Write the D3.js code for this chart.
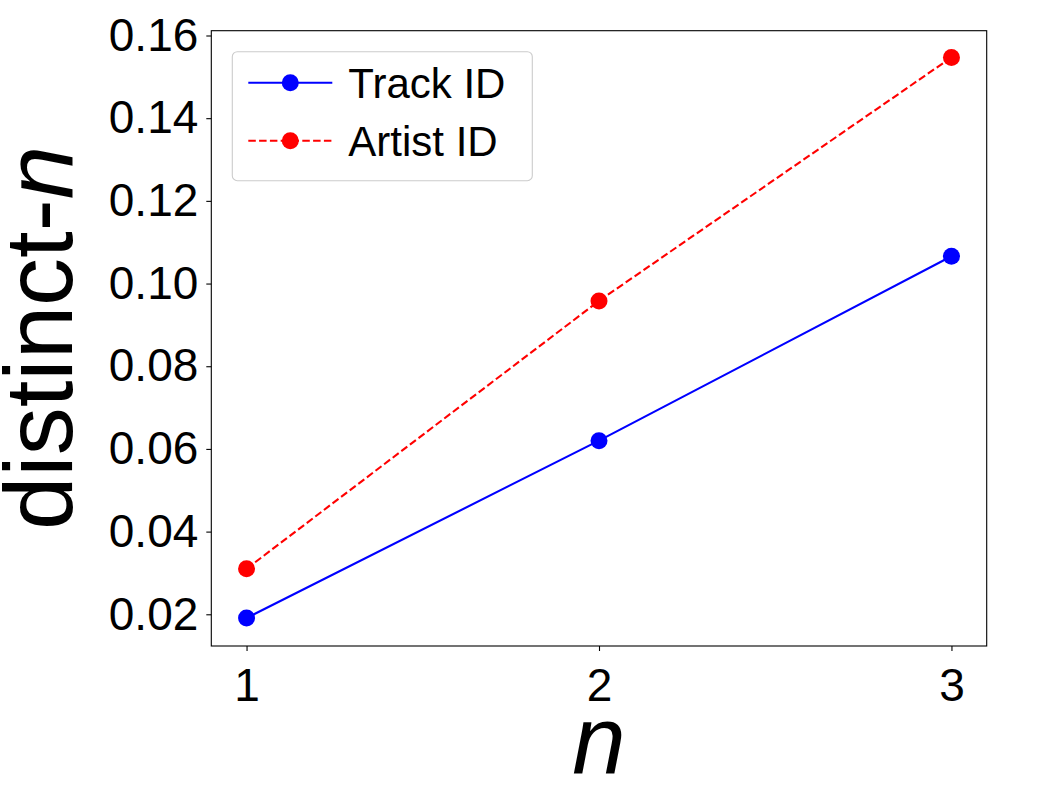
<!DOCTYPE html>
<meta charset="utf-8">
<head>
  <style>
    body { margin: 0; background: #fff; }
    svg text { font-family: "Liberation Sans", Arial, sans-serif; fill: #000; }
    .axis path, .axis line { stroke: #000; stroke-width: 1.1; }
  </style>
</head>

<script src="https://d3js.org/d3.v7.min.js"></script>

<div id="my_dataviz"></div>

<script>

// data
var ngram = [1, 2, 3];
var trackID = [0.0191, 0.0620, 0.1066];
var artistID = [0.0310, 0.0958, 0.1547];
var xTicks = [1, 2, 3];
var yTicks = [0.02, 0.04, 0.06, 0.08, 0.10, 0.12, 0.14, 0.16];

var series = [
  {name: "Track ID", values: trackID, color: "#0000ff", dash: null},
  {name: "Artist ID", values: artistID, color: "#ff0000", dash: "7.5,3.3"}
];

// set the dimensions and margins of the graph
var margin = {top: 30.7, right: 63.3, bottom: 154, left: 211.3},
    width = 1050 - margin.left - margin.right,
    height = 800 - margin.top - margin.bottom;

var svg = d3.select("#my_dataviz")
  .append("svg")
    .attr("width", 1050)
    .attr("height", 800)
  .append("g")
    .attr("transform", "translate(" + margin.left + "," + margin.top + ")");

// scales (matplotlib style 5% margins)
var x = d3.scaleLinear().domain([0.9, 3.1]).range([0, width]);
var y = d3.scaleLinear().domain([0.01233, 0.16116]).range([height, 0]);

// X axis
var xAxis = svg.append("g")
  .attr("class", "axis")
  .attr("transform", "translate(0," + height + ")")
  .call(d3.axisBottom(x).tickValues(xTicks).tickFormat(d3.format("d")).tickSize(5).tickPadding(17));
xAxis.select(".domain").remove();
xAxis.selectAll("text").style("font-size", "46px");

// Y axis
var yAxis = svg.append("g")
  .attr("class", "axis")
  .call(d3.axisLeft(y).tickValues(yTicks).tickFormat(d3.format(".2f")).tickSize(5).tickPadding(8));
yAxis.select(".domain").remove();
yAxis.selectAll("text").style("font-size", "46px");

// frame
svg.append("rect")
  .attr("width", width)
  .attr("height", height)
  .attr("fill", "none")
  .attr("stroke", "#000")
  .attr("stroke-width", 1.1);

// lines + markers
var line = d3.line()
  .x(function(d, i) { return x(ngram[i]); })
  .y(function(d) { return y(d); });

series.forEach(function(s) {
  svg.append("path")
    .datum(s.values)
    .attr("d", line)
    .attr("fill", "none")
    .attr("stroke", s.color)
    .attr("stroke-width", 2.1)
    .attr("stroke-dasharray", s.dash);

  svg.selectAll(null)
    .data(s.values)
    .enter()
    .append("circle")
      .attr("cx", function(d, i) { return x(ngram[i]); })
      .attr("cy", function(d) { return y(d); })
      .attr("r", 8.5)
      .attr("fill", s.color);
});

// axis labels
svg.append("text")
  .attr("x", width / 2)
  .attr("y", 773 - margin.top)
  .attr("text-anchor", "middle")
  .style("font-size", "96px")
  .style("font-style", "italic")
  .text("n");

var yl = svg.append("text")
  .attr("transform", "translate(" + (72 - margin.left) + "," + (338 - margin.top) + ") rotate(-90)")
  .attr("text-anchor", "middle")
  .style("font-size", "96px");
yl.append("tspan").text("distinct-");
yl.append("tspan").style("font-style", "italic").text("n");

// legend
var legend = svg.append("g")
  .attr("transform", "translate(" + (232.3 - margin.left) + "," + (51.7 - margin.top) + ")");

legend.append("rect")
  .attr("width", 300)
  .attr("height", 129)
  .attr("rx", 5)
  .attr("fill", "#fff")
  .attr("fill-opacity", 0.8)
  .attr("stroke", "#cccccc")
  .attr("stroke-width", 1.1);

series.forEach(function(s, i) {
  var cy = 31 + i * 58;
  legend.append("line")
    .attr("x1", 16).attr("x2", 100)
    .attr("y1", cy).attr("y2", cy)
    .attr("stroke", s.color)
    .attr("stroke-width", 2.1)
    .attr("stroke-dasharray", s.dash);
  legend.append("circle")
    .attr("cx", 58).attr("cy", cy)
    .attr("r", 8.5)
    .attr("fill", s.color);
  legend.append("text")
    .attr("x", 116)
    .attr("y", cy)
    .attr("dy", "0.36em")
    .style("font-size", "42px")
    .text(s.name);
});

</script>
